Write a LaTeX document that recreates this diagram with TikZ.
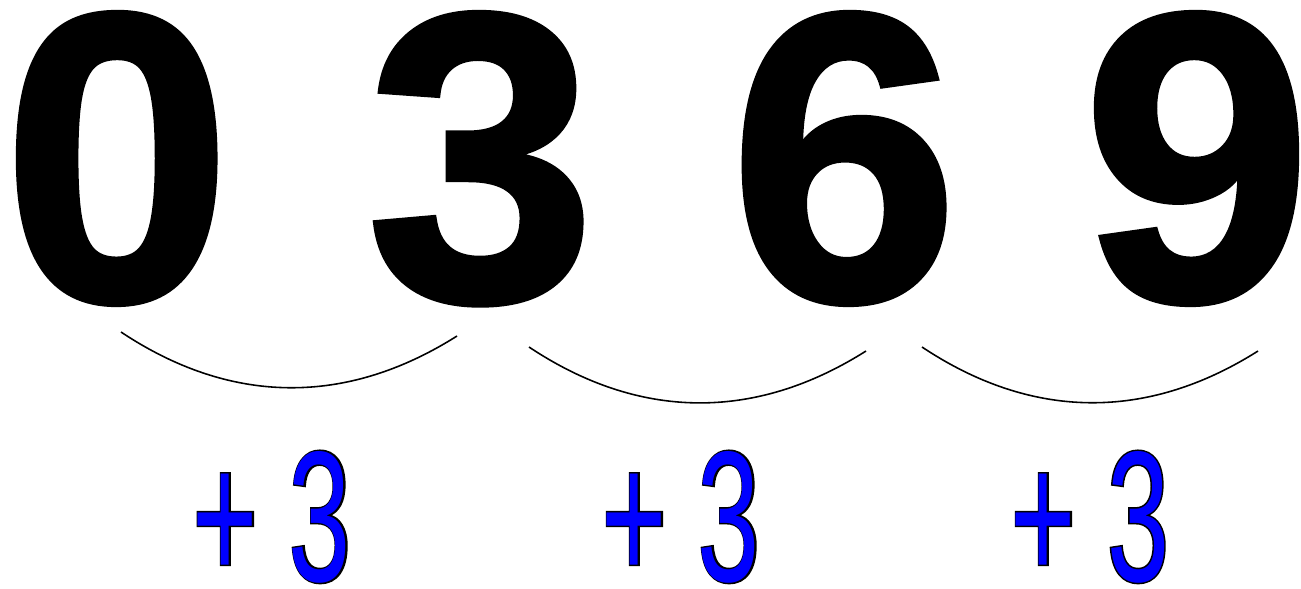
\documentclass[tikz,border=0pt]{standalone}
\usepackage{fontspec}
\usepackage{tikz}
\usetikzlibrary{positioning}
\newfontfamily\digitfont{Liberation Sans Bold}[FakeBold=1.5]
\newfontfamily\stepfont{Liberation Sans}[FakeStretch=0.6]
\newfontfamily\stepedge{Liberation Sans}[FakeStretch=0.6,FakeBold=1.6]

\begin{document}
\begin{tikzpicture}[
    x=0.02cm, y=-0.02cm,
    digit/.style={inner sep=0pt, anchor=base, font=\digitfont\fontsize{234}{236}\selectfont},
    stepedge/.style={inner sep=0pt, anchor=base, text=black, font=\stepedge\fontsize{106}{108}\selectfont},
    steplabel/.style={inner sep=0pt, anchor=base, text=blue, font=\stepfont\fontsize{106}{108}\selectfont},
    hop/.style={line width=0.9pt, draw=black}
]
\useasboundingbox (0,0) rectangle (1301,588);

% Digits
\node[digit] (d0) at (117,300) {0};
\node[digit] (d3) at (481,300) {3};
\node[digit] (d6) at (844,300) {6};
\node[digit] (d9) at (1197,300) {9};

% Arc ends
\coordinate (h0s) at (121,332);
\coordinate (h0e) at (457,336);
\coordinate (h1s) at (529,347);
\coordinate (h1e) at (866,351);
\coordinate (h2s) at (922,347);
\coordinate (h2e) at (1258,351);

% Hops
\draw[hop] (h0s) to[bend right=33] (h0e);
\draw[hop] (h1s) to[bend right=33] (h1e);
\draw[hop] (h2s) to[bend right=33] (h2e);

% Step labels
\node[stepedge] (e1) at (272,581) {+ 3};
\node[steplabel] (s1) at (272,581) {+ 3};
\node[stepedge] (e2) at (681,581) {+ 3};
\node[steplabel] (s2) at (681,581) {+ 3};
\node[stepedge] (e3) at (1090,581) {+ 3};
\node[steplabel] (s3) at (1090,581) {+ 3};

\end{tikzpicture}
\end{document}
